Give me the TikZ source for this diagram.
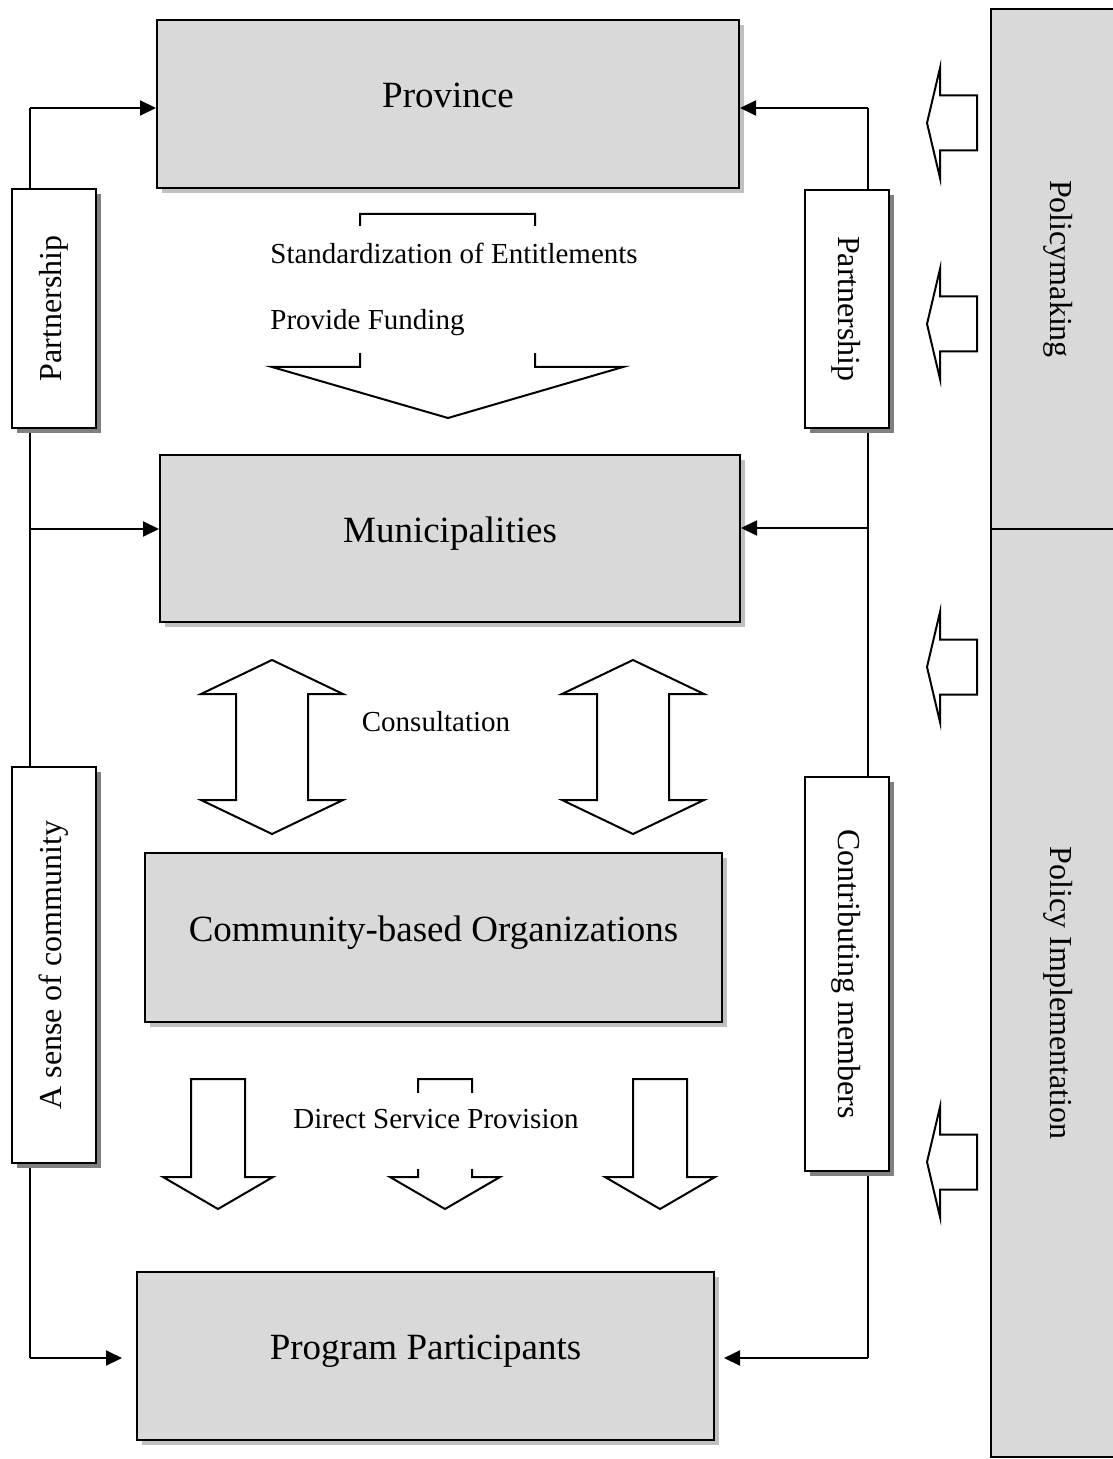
\documentclass[tikz,border=0pt]{standalone}
\usepackage{fontspec}
\usepackage{graphicx}
\setmainfont{Liberation Serif}
\usetikzlibrary{arrows.meta}
\usetikzlibrary{shadows}
\usetikzlibrary{backgrounds}
\definecolor{boxgray}{HTML}{D9D9D9}
\definecolor{shadelight}{HTML}{C0C0C0}
\definecolor{shadedark}{HTML}{808080}
\newcommand{\boxfont}{\fontsize{18.5}{22}\selectfont}
\newcommand{\sidefont}{\fontsize{16}{19}\selectfont}
\newcommand{\notefont}{\fontsize{14.5}{17}\selectfont}
\tikzset{
  levelbox/.style = {draw, line width=1pt, fill=boxgray, font=\boxfont,
    minimum width=289pt, minimum height=84pt, inner sep=0pt,
    text height=0.75em, text depth=0.4em,
    drop shadow={shadow xshift=2.5pt, shadow yshift=-2.5pt, fill=shadelight, opacity=1}},
  sidebox/.style = {draw, line width=1pt, fill=white, font=\sidefont,
    minimum width=42pt, inner sep=0pt,
    drop shadow={shadow xshift=2.5pt, shadow yshift=-2.5pt, fill=shadedark, opacity=1}},
  phasebox/.style = {draw, line width=1.2pt, fill=boxgray, font=\sidefont,
    minimum width=67pt, inner sep=0pt},
  blockarrow/.style = {draw, line width=1pt, fill=white, line join=miter},
  spine/.style = {line width=1pt},
  link/.style = {line width=1pt, -{Triangle[length=8pt,width=7.5pt]}},
  note/.style = {font=\notefont, inner sep=1pt}
}

\begin{document}
\begin{tikzpicture}[x=0.5pt, y=-0.5pt]
  \useasboundingbox (0,0) rectangle (1112,1459);

  % levels
  \node[levelbox, minimum width=291pt] (prov) at (448,104) {Province};
  \node[levelbox, minimum width=290pt, minimum height=83.5pt] (muni) at (450,538.5) {Municipalities};
  \node[levelbox, minimum width=288.5pt, minimum height=84.5pt] (cbo) at (433.5,937.5) {Community-based Organizations};
  \node[levelbox, minimum width=288.5pt] (prog) at (425.5,1356) {Program Participants};

  % side boxes
  \node[sidebox, minimum height=119.5pt] (lpart) at (53.5,308.5) {\rotatebox{90}{Partnership}};
  \node[sidebox, minimum height=198pt] (lcomm) at (53.5,965) {\rotatebox{90}{A sense of community}};
  \node[sidebox, minimum height=119pt] (rpart) at (846.5,309) {\rotatebox{-90}{Partnership}};
  \node[sidebox, minimum height=197pt] (rmemb) at (846.5,974) {\rotatebox{-90}{Contributing members}};

  % phases
  \node[phasebox, minimum height=260pt] (pmak) at (1058,269) {\rotatebox{-90}{Policymaking}};
  \node[phasebox, minimum height=464pt] (pimp) at (1058,993) {\rotatebox{-90}{Policy Implementation}};

  % spines and links
  \coordinate (LT) at (30,108);
  \coordinate (LM) at (30,529);
  \coordinate (LB) at (30,1358);
  \coordinate (RT) at (868,108);
  \coordinate (RM) at (868,528);
  \coordinate (RB) at (868,1358);
  \begin{scope}[on background layer]
    \draw[spine] (LT) -- (LB);
    \draw[spine] (RT) -- (RB);
  \end{scope}
  \draw[link] (LT) -- (LT -| prov.west);
  \draw[link] (LM) -- (LM -| muni.west);
  \draw[link, shorten >=7pt] (LB) -- (LB -| prog.west);
  \draw[link] (RT) -- (RT -| prov.east);
  \draw[link] (RM) -- (RM -| muni.east);
  \draw[link, shorten >=4.5pt] (RB) -- (RB -| prog.east);

  % funding arrow
  \draw[blockarrow] (360,214) -- (535,214) -- (535,367) -- (623,367) -- (448,418)
    -- (272,367) -- (360,367) -- cycle;
  \node[note, anchor=west, fill=white, inner xsep=3pt, align=left,
    minimum height=63.5pt, font=\fontsize{14.5}{33}\selectfont] (fund) at (264,289.5)
    {Standardization of Entitlements\\Provide Funding};

  % consultation
  \foreach \cx in {272,633}
    \draw[blockarrow] (\cx,660) -- (\cx+71,694) -- (\cx+36,694) -- (\cx+36,800)
      -- (\cx+71,800) -- (\cx,834) -- (\cx-71,800) -- (\cx-36,800)
      -- (\cx-36,694) -- (\cx-71,694) -- cycle;
  \node[note] (cons) at (436,722) {Consultation};

  % service provision
  \foreach \cx in {218,445,660}
    \draw[blockarrow] (\cx-27,1079) -- (\cx+27,1079) -- (\cx+27,1177) -- (\cx+55,1177)
      -- (\cx,1209) -- (\cx-55,1177) -- (\cx-27,1177) -- cycle;
  \node[note, fill=white, minimum height=38pt, text height=0.7em, text depth=1.0em]
    (serv) at (436,1131) {Direct Service Provision};

  % phase arrows
  \foreach \ty in {123,324,667,1162}
    \draw[blockarrow] (927,\ty) -- (940,\ty-55) -- (940,\ty-27.5) -- (977,\ty-27.5)
      -- (977,\ty+27.5) -- (940,\ty+27.5) -- (940,\ty+55) -- cycle;
\end{tikzpicture}
\end{document}
